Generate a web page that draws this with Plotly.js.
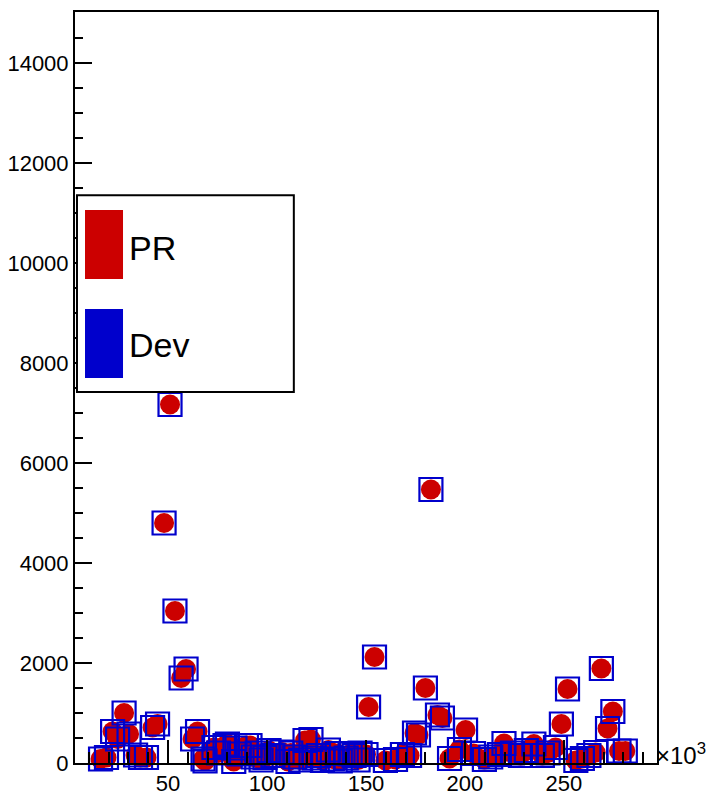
<!DOCTYPE html>
<html>
<head>
<meta charset="utf-8">
<script src="https://cdn.plot.ly/plotly-3.0.1.min.js"></script>
<style>html,body{margin:0;padding:0;background:#fff;}#chart{width:706px;height:796px;}</style>
</head>
<body>
<div id="chart"></div>
<script>
// x values in thousands (axis shows x10^3)
const prX = [15.9,18.9,22.0,24.5,27.8,30.3,33.6,36.1,39.1,42.2,44.7,48.0,51.0,53.5,56.6,59.1,62.4,64.9,67.7,68.7,73.2,75.5,78.8,80.0,83.2,83.8,86,89.6,91.4,93,95,97,99,101,103,107.6,110.6,112,114,117,119.2,122.2,124,126,128,131,133,135.4,137,140,142,144,146,147,150,151.3,154.3,159.8,164.9,168.4,172,174.5,176.5,180,182.8,186.1,188.6,192.2,197.2,200.3,204.3,209.8,213,217.4,219.7,224,228,231,234.8,239.1,242,245.7,248.7,251.8,256,259.3,262.6,266,268.9,272,274.7,277.8,281];
const prY = [80,110,630,480,1000,580,160,110,110,710,780,4800,7170,3040,1700,1880,480,630,80,40,310,200,350,380,30,300,180,350,350,120,200,60,110,250,150,220,30,200,120,60,450,470,100,150,50,260,80,190,40,100,180,150,60,200,170,1120,2120,50,70,170,150,600,560,1500,5470,960,900,90,270,660,190,70,120,170,390,200,150,250,380,150,200,310,780,1480,50,90,150,210,1890,690,1030,240,240];
const devX = [15.9,18.9,22.0,24.5,27.8,30.3,33.6,36.1,39.1,42.2,44.7,48.0,51.0,53.5,56.6,59.1,62.4,64.9,67.7,68.7,73.2,75.5,78.8,80.0,83.2,83.8,86,89.6,91.4,93,95,97,99,101,103,107.6,110.6,112,114,117,119.2,122.2,124,126,128,131,133,135.4,137,140,142,144,146,147,150,151.3,154.3,159.8,164.9,168.4,172,174.5,176.5,180,182.8,186.1,188.6,192.2,197.2,200.3,204.3,209.8,213,217.4,219.7,224,228,231,234.8,239.1,242,245.7,248.7,251.8,256,259.3,262.6,266,268.9,272,274.7,277.8,281];
const devY = [80,110,630,480,1000,580,160,110,110,710,780,4800,7170,3040,1700,1880,480,630,80,40,310,200,350,380,30,300,180,350,350,120,200,60,110,250,150,220,30,200,120,60,450,470,100,150,50,260,80,190,40,100,180,150,60,200,170,1120,2120,50,70,170,150,600,560,1500,5470,960,900,90,270,660,190,70,120,170,390,200,150,250,380,150,200,310,780,1480,50,90,150,210,1890,690,1030,240,240];
const seriesNames = ['PR','Dev'];
const seriesColors = ['#cc0000','#0000cc'];

const traces = [
  {x: prX, y: prY, type: 'scatter', mode: 'markers', name: seriesNames[0],
   marker: {symbol: 'circle', size: 20, color: seriesColors[0], line: {width: 0}}, cliponaxis: false},
  {x: devX, y: devY, type: 'scatter', mode: 'markers', name: seriesNames[1],
   marker: {symbol: 'square-open', size: 23, color: seriesColors[1], line: {width: 2.2, color: seriesColors[1]}}, cliponaxis: false}
];

const font = {family: 'Liberation Sans, Arial, sans-serif', size: 22, color: '#000'};

const layout = {
  width: 706, height: 796,
  margin: {l: 75, r: 49, t: 12, b: 33, pad: 0},
  paper_bgcolor: '#fff', plot_bgcolor: '#fff',
  showlegend: false,
  font: font,
  xaxis: {
    range: [3, 297], dtick: 50, tick0: 0,
    showgrid: false, zeroline: false,
    showline: true, linecolor: '#000', linewidth: 2, mirror: true,
    ticks: 'inside', ticklen: 23, tickwidth: 2, tickcolor: '#000',
    minor: {dtick: 10, ticks: 'inside', ticklen: 11, tickwidth: 2, tickcolor: '#000', showgrid: false},
    tickfont: font, tickformat: 'd'
  },
  yaxis: {
    range: [0, 15020], dtick: 2000, tick0: 0,
    showgrid: false, zeroline: false,
    showline: true, linecolor: '#000', linewidth: 2, mirror: true,
    ticks: 'inside', ticklen: 17, tickwidth: 2, tickcolor: '#000',
    minor: {dtick: 500, ticks: 'inside', ticklen: 8, tickwidth: 2, tickcolor: '#000', showgrid: false},
    tickfont: font, tickformat: 'd', exponentformat: 'none'
  },
  shapes: [
    {type: 'rect', xref: 'paper', yref: 'paper', x0: 0.0034, x1: 0.376, y0: 0.494, y1: 0.756,
     fillcolor: '#fff', line: {color: '#000', width: 2}, layer: 'above'},
    {type: 'rect', xref: 'paper', yref: 'paper', x0: 0.0172, x1: 0.0825, y0: 0.6445, y1: 0.7364,
     fillcolor: seriesColors[0], line: {width: 0}, layer: 'above'},
    {type: 'rect', xref: 'paper', yref: 'paper', x0: 0.0172, x1: 0.0825, y0: 0.5126, y1: 0.6045,
     fillcolor: seriesColors[1], line: {width: 0}, layer: 'above'}
  ],
  annotations: [
    {xref: 'paper', yref: 'paper', x: 0.089, y: 0.6858, xanchor: 'left', yanchor: 'middle',
     text: seriesNames[0], showarrow: false, font: {family: font.family, size: 34, color: '#000'}},
    {xref: 'paper', yref: 'paper', x: 0.089, y: 0.5566, xanchor: 'left', yanchor: 'middle',
     text: seriesNames[1], showarrow: false, font: {family: font.family, size: 34, color: '#000'}},
    {xref: 'paper', yref: 'paper', x: 0.995, y: 0.012, xanchor: 'left', yanchor: 'middle',
     text: '×10<sup>3</sup>', showarrow: false, font: {family: font.family, size: 24, color: '#000'}}
  ]
};

Plotly.newPlot('chart', traces, layout, {staticPlot: true, displayModeBar: false});
</script>
</body>
</html>
